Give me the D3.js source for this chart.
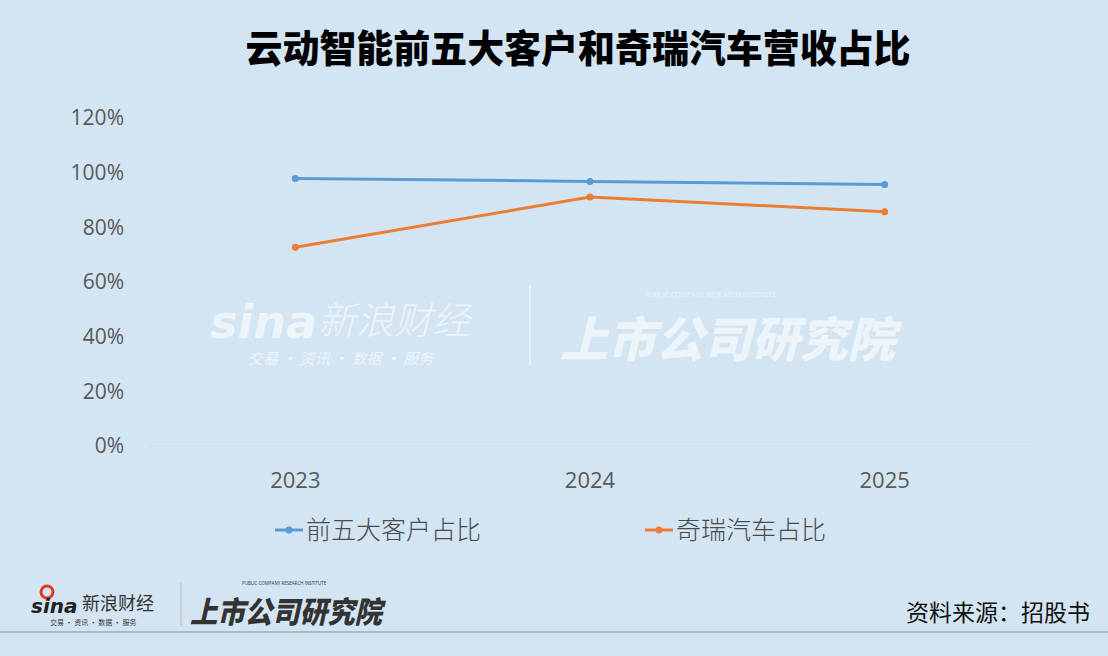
<!DOCTYPE html>
<html><head><meta charset="utf-8">
<script src="https://cdn.jsdelivr.net/npm/d3@7/dist/d3.min.js"></script>
<style>
html,body{margin:0;padding:0;background:#d3e5f3;}
svg{display:block;}
</style></head>
<body>
<svg id="chart" width="1108" height="656"></svg>
<script>
const title = "云动智能前五大客户和奇瑞汽车营收占比";
const years = ["2023", "2024", "2025"];
const seriesNames = ["前五大客户占比", "奇瑞汽车占比"];
const top5Share = [0.979, 0.968, 0.957];
const cheryShare = [0.727, 0.911, 0.857];
const yTicks = [0, 0.2, 0.4, 0.6, 0.8, 1.0, 1.2];
const colors = ["#5b9bd5", "#ed7d31"];
const sourceText = "资料来源：招股书";

const svg = d3.select("#chart");
const W = 1108, H = 656;
svg.append("rect").attr("width", W).attr("height", H).attr("fill", "#d3e5f3");

const cjk = "'Noto Sans CJK SC', 'Noto Sans', sans-serif";
const latin = "'Open Sans', 'Liberation Sans', 'Noto Sans', sans-serif";

// Title
svg.append("text").attr("x", 578).attr("y", 62).attr("text-anchor", "middle")
  .attr("font-family", cjk).attr("font-weight", 900).attr("font-size", 38)
  .attr("textLength", 665).attr("lengthAdjust", "spacingAndGlyphs")
  .attr("fill", "#000").text(title);

const x = d3.scalePoint().domain(years).range([148, 1032]).padding(0.5);
const y = d3.scaleLinear().domain([0, 1.2]).range([446, 118]);

// Watermark (drawn behind lines)
const wm = svg.append("g").attr("fill", "#ffffff").attr("opacity", 0.6);
wm.append("text").attr("x", 210).attr("y", 338).attr("font-family", "'DejaVu Sans', sans-serif")
  .attr("font-weight", "bold").attr("font-style", "italic").attr("font-size", 46).text("sina");
wm.append("text").attr("x", 318).attr("y", 334).attr("font-family", cjk)
  .attr("font-style", "italic").attr("font-size", 38).attr("font-weight", 300).text("新浪财经");
wm.append("text").attr("x", 248).attr("y", 364).attr("font-family", cjk)
  .attr("font-style", "italic").attr("font-size", 15).text("交易 · 资讯 · 数据 · 服务");
svg.append("line").attr("x1", 530).attr("x2", 530).attr("y1", 285).attr("y2", 365)
  .attr("stroke", "#fff").attr("stroke-opacity", 0.6).attr("stroke-width", 1.5);
wm.append("text").attr("x", 560).attr("y", 357).attr("font-family", cjk)
  .attr("font-style", "italic").attr("font-weight", 900).attr("font-size", 48)
  .attr("textLength", 335).attr("lengthAdjust", "spacingAndGlyphs").text("上市公司研究院");
wm.append("text").attr("x", 645).attr("y", 297).attr("font-family", latin)
  .attr("font-size", 7).text("PUBLIC COMPANY RESEARCH INSTITUTE");

// Y axis labels
svg.append("g").selectAll("text").data(yTicks).join("text")
  .attr("x", 124).attr("y", d => y(d)).attr("dy", "0.35em").attr("text-anchor", "end")
  .attr("font-family", latin).attr("font-size", 21).attr("fill", "#595959")
  .text(d => d3.format(".0%")(d));

// baseline gridline
svg.append("line").attr("x1", 148).attr("x2", 1032).attr("y1", y(0)).attr("y2", y(0))
  .attr("stroke", "#d9d9d9").attr("stroke-width", 1);

// X axis labels
svg.append("g").selectAll("text").data(years).join("text")
  .attr("x", d => x(d)).attr("y", 480).attr("dy", "0.35em").attr("text-anchor", "middle")
  .attr("font-family", latin).attr("font-size", 22).attr("fill", "#595959").text(d => d);

// Lines
const seriesData = [top5Share, cheryShare];
const line = d3.line().x((d, i) => x(years[i])).y(d => y(d));
seriesData.forEach((vals, si) => {
  svg.append("path").datum(vals).attr("d", line).attr("fill", "none")
    .attr("stroke", colors[si]).attr("stroke-width", 3).attr("stroke-linejoin", "round");
  svg.append("g").selectAll("circle").data(vals).join("circle")
    .attr("cx", (d, i) => x(years[i])).attr("cy", d => y(d)).attr("r", 3.5)
    .attr("fill", colors[si]);
});

// Legend
const legendX = [275, 645];
seriesNames.forEach((name, i) => {
  const g = svg.append("g").attr("transform", `translate(${legendX[i]},530)`);
  g.append("line").attr("x1", 0).attr("x2", 28).attr("stroke", colors[i]).attr("stroke-width", 3);
  g.append("circle").attr("cx", 14).attr("r", 3.5).attr("fill", colors[i]);
  g.append("text").attr("x", 31).attr("dy", "0.35em").attr("font-family", cjk)
    .attr("font-size", 25).attr("font-weight", 300).attr("fill", "#4a4a4a").text(name);
});

// Footer
const ft = svg.append("g");
ft.append("circle").attr("cx", 47).attr("cy", 592).attr("r", 6).attr("fill", "none")
  .attr("stroke", "#e03a1e").attr("stroke-width", 3);
ft.append("text").attr("x", 31).attr("y", 613).attr("font-family", "'DejaVu Sans', sans-serif")
  .attr("font-weight", "bold").attr("font-style", "italic").attr("font-size", 20)
  .attr("fill", "#222").text("sina");
ft.append("text").attr("x", 82).attr("y", 610).attr("font-family", cjk)
  .attr("font-size", 18).attr("fill", "#333").text("新浪财经");
ft.append("text").attr("x", 50).attr("y", 625).attr("font-family", cjk)
  .attr("font-size", 7).attr("fill", "#333").text("交易 · 资讯 · 数据 · 服务");
ft.append("line").attr("x1", 181).attr("x2", 181).attr("y1", 583).attr("y2", 626)
  .attr("stroke", "#bbb").attr("stroke-width", 1);
ft.append("text").attr("x", 190).attr("y", 623).attr("font-family", cjk)
  .attr("font-style", "italic").attr("font-weight", 900).attr("font-size", 30)
  .attr("textLength", 192).attr("lengthAdjust", "spacingAndGlyphs")
  .attr("fill", "#333").text("上市公司研究院");
ft.append("text").attr("x", 242).attr("y", 585).attr("font-family", latin)
  .attr("font-size", 4.5).attr("fill", "#333").text("PUBLIC COMPANY RESEARCH INSTITUTE");

svg.append("text").attr("x", 1090).attr("y", 621).attr("text-anchor", "end")
  .attr("font-family", cjk).attr("font-size", 23).attr("fill", "#111").text(sourceText);

svg.append("line").attr("x1", 0).attr("x2", W).attr("y1", 632).attr("y2", 632)
  .attr("stroke", "#a6a6a6").attr("stroke-width", 1.5);
</script>
</body></html>
